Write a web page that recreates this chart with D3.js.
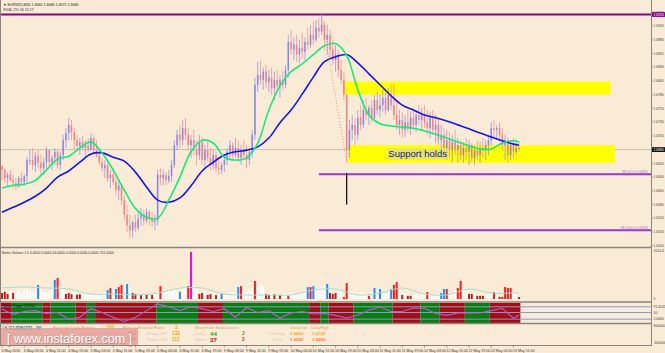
<!DOCTYPE html>
<html>
<head>
<meta charset="utf-8">
<script src="https://cdn.jsdelivr.net/npm/d3@7"></script>
<style>
html, body { margin: 0; padding: 0; background: #faebd7; }
svg { display: block; font-family: "Liberation Sans", Arial, sans-serif; }
</style>
</head>
<body>
<svg id="chart" width="665" height="353"></svg>
<script>
// EURNZD M30 - hourly samples
const highs = [
  1.6652, 1.6646, 1.6639, 1.6643, 1.6634, 1.6628, 1.6632, 1.6639, 1.6635, 1.6666,
  1.6679, 1.6683, 1.6676, 1.6679, 1.6670, 1.6665, 1.6685, 1.6679, 1.6670, 1.6683,
  1.6679, 1.6676, 1.6707, 1.6719, 1.6738, 1.6734, 1.6719, 1.6707, 1.6701, 1.6705,
  1.6697, 1.6701, 1.6710, 1.6707, 1.6697, 1.6679, 1.6665, 1.6661, 1.6656, 1.6643,
  1.6646, 1.6634, 1.6624, 1.6619, 1.6597, 1.6579, 1.6561, 1.6551, 1.6561, 1.6566,
  1.6573, 1.6570, 1.6573, 1.6570, 1.6566, 1.6561, 1.6643, 1.6646, 1.6643, 1.6639,
  1.6643, 1.6661, 1.6697, 1.6716, 1.6725, 1.6734, 1.6738, 1.6719, 1.6707, 1.6716,
  1.6697, 1.6707, 1.6701, 1.6688, 1.6697, 1.6683, 1.6679, 1.6676, 1.6661, 1.6657,
  1.6670, 1.6683, 1.6697, 1.6694, 1.6701, 1.6697, 1.6688, 1.6697, 1.6688, 1.6683,
  1.6716, 1.6811, 1.6840, 1.6843, 1.6829, 1.6834, 1.6825, 1.6829, 1.6822, 1.6825,
  1.6816, 1.6822, 1.6834, 1.6889, 1.6898, 1.6884, 1.6889, 1.6880, 1.6893, 1.6884,
  1.6902, 1.6907, 1.6913, 1.6916, 1.6920, 1.6926, 1.6913, 1.6907, 1.6898, 1.6880,
  1.6871, 1.6862, 1.6843, 1.6822, 1.6780, 1.6734, 1.6743, 1.6738, 1.6752, 1.6761,
  1.6770, 1.6774, 1.6761, 1.6770, 1.6780, 1.6785, 1.6780, 1.6789, 1.6785, 1.6792,
  1.6798, 1.6800, 1.6770, 1.6752, 1.6749, 1.6743, 1.6752, 1.6749, 1.6756, 1.6752,
  1.6761, 1.6756, 1.6761, 1.6752, 1.6749, 1.6752, 1.6743, 1.6738, 1.6725, 1.6719,
  1.6716, 1.6712, 1.6707, 1.6716, 1.6701, 1.6697, 1.6694, 1.6701, 1.6697, 1.6692,
  1.6688, 1.6697, 1.6694, 1.6701, 1.6697, 1.6707, 1.6730, 1.6734, 1.6725, 1.6730,
  1.6719, 1.6707, 1.6701, 1.6697, 1.6701, 1.6697, 1.6694
];
const lows = [
  1.6624, 1.6619, 1.6614, 1.6621, 1.6610, 1.6606, 1.6610, 1.6615, 1.6614, 1.6619,
  1.6652, 1.6643, 1.6639, 1.6646, 1.6634, 1.6634, 1.6643, 1.6646, 1.6643, 1.6652,
  1.6646, 1.6643, 1.6661, 1.6683, 1.6697, 1.6697, 1.6679, 1.6676, 1.6670, 1.6679,
  1.6666, 1.6676, 1.6679, 1.6670, 1.6665, 1.6652, 1.6639, 1.6628, 1.6621, 1.6610,
  1.6615, 1.6597, 1.6588, 1.6579, 1.6551, 1.6530, 1.6519, 1.6520, 1.6530, 1.6533,
  1.6542, 1.6542, 1.6546, 1.6542, 1.6539, 1.6533, 1.6542, 1.6615, 1.6615, 1.6615,
  1.6619, 1.6621, 1.6646, 1.6679, 1.6683, 1.6688, 1.6697, 1.6679, 1.6665, 1.6670,
  1.6652, 1.6661, 1.6652, 1.6646, 1.6657, 1.6643, 1.6643, 1.6639, 1.6634, 1.6635,
  1.6639, 1.6652, 1.6661, 1.6661, 1.6665, 1.6657, 1.6652, 1.6661, 1.6646, 1.6652,
  1.6665, 1.6697, 1.6785, 1.6798, 1.6789, 1.6792, 1.6785, 1.6780, 1.6770, 1.6785,
  1.6774, 1.6789, 1.6792, 1.6811, 1.6853, 1.6843, 1.6840, 1.6838, 1.6847, 1.6843,
  1.6862, 1.6865, 1.6871, 1.6876, 1.6884, 1.6889, 1.6862, 1.6853, 1.6849, 1.6834,
  1.6822, 1.6812, 1.6798, 1.6770, 1.6657, 1.6665, 1.6697, 1.6688, 1.6697, 1.6716,
  1.6719, 1.6734, 1.6725, 1.6730, 1.6734, 1.6743, 1.6738, 1.6749, 1.6743, 1.6749,
  1.6752, 1.6734, 1.6716, 1.6707, 1.6701, 1.6703, 1.6712, 1.6707, 1.6716, 1.6712,
  1.6725, 1.6716, 1.6719, 1.6707, 1.6701, 1.6707, 1.6692, 1.6688, 1.6679, 1.6670,
  1.6661, 1.6665, 1.6657, 1.6670, 1.6657, 1.6661, 1.6656, 1.6661, 1.6652, 1.6657,
  1.6652, 1.6661, 1.6656, 1.6665, 1.6661, 1.6670, 1.6688, 1.6701, 1.6697, 1.6694,
  1.6679, 1.6661, 1.6656, 1.6661, 1.6665, 1.6670, 1.6676
];
const closes = [
  1.6643, 1.6628, 1.6634, 1.6624, 1.6619, 1.6614, 1.6628, 1.6621, 1.6632, 1.6661,
  1.6661, 1.6652, 1.6668, 1.6656, 1.6646, 1.6657, 1.6679, 1.6657, 1.6665, 1.6676,
  1.6652, 1.6670, 1.6697, 1.6710, 1.6725, 1.6712, 1.6697, 1.6687, 1.6694, 1.6683,
  1.6688, 1.6679, 1.6701, 1.6679, 1.6670, 1.6657, 1.6646, 1.6652, 1.6628, 1.6634,
  1.6621, 1.6606, 1.6615, 1.6588, 1.6561, 1.6542, 1.6533, 1.6548, 1.6537, 1.6555,
  1.6561, 1.6551, 1.6566, 1.6555, 1.6548, 1.6551, 1.6634, 1.6628, 1.6634, 1.6624,
  1.6632, 1.6652, 1.6688, 1.6707, 1.6697, 1.6719, 1.6707, 1.6688, 1.6697, 1.6679,
  1.6670, 1.6694, 1.6661, 1.6679, 1.6665, 1.6652, 1.6670, 1.6646, 1.6643, 1.6652,
  1.6661, 1.6676, 1.6688, 1.6670, 1.6683, 1.6665, 1.6679, 1.6670, 1.6661, 1.6676,
  1.6707, 1.6798, 1.6816, 1.6807, 1.6822, 1.6803, 1.6811, 1.6792, 1.6807, 1.6796,
  1.6807, 1.6798, 1.6825, 1.6876, 1.6862, 1.6871, 1.6853, 1.6865, 1.6858, 1.6876,
  1.6871, 1.6889, 1.6880, 1.6902, 1.6895, 1.6907, 1.6880, 1.6889, 1.6862, 1.6843,
  1.6853, 1.6825, 1.6807, 1.6780, 1.6679, 1.6716, 1.6725, 1.6707, 1.6738, 1.6725,
  1.6752, 1.6743, 1.6756, 1.6738, 1.6770, 1.6752, 1.6761, 1.6774, 1.6752, 1.6780,
  1.6761, 1.6743, 1.6725, 1.6734, 1.6716, 1.6730, 1.6719, 1.6738, 1.6725, 1.6743,
  1.6734, 1.6743, 1.6730, 1.6719, 1.6738, 1.6716, 1.6725, 1.6697, 1.6707, 1.6683,
  1.6697, 1.6679, 1.6694, 1.6679, 1.6688, 1.6670, 1.6683, 1.6676, 1.6688, 1.6665,
  1.6679, 1.6670, 1.6683, 1.6679, 1.6688, 1.6697, 1.6719, 1.6716, 1.6719, 1.6707,
  1.6688, 1.6697, 1.6670, 1.6688, 1.6676, 1.6683, 1.6680
];
const firstOpen = 1.6650;

// moving averages, read every 4 bars (last one at bar 186)
const maStep = 4;
const maFast = [
  1.6610, 1.6615, 1.6617, 1.6624, 1.6643, 1.6663, 1.6668, 1.6683, 1.6694, 1.6674,
  1.6643, 1.6606, 1.6573, 1.6557, 1.6555, 1.6588, 1.6630, 1.6676, 1.6697, 1.6692,
  1.6666, 1.6661, 1.6665, 1.6692, 1.6752, 1.6796, 1.6822, 1.6836, 1.6853, 1.6869,
  1.6873, 1.6851, 1.6789, 1.6743, 1.6727, 1.6723, 1.6721, 1.6719, 1.6714, 1.6708,
  1.6701, 1.6694, 1.6687, 1.6681, 1.6681, 1.6692, 1.6696, 1.6694
];
const maSlow = [
  1.6566, 1.6575, 1.6584, 1.6595, 1.6610, 1.6630, 1.6641, 1.6657, 1.6672, 1.6674,
  1.6666, 1.6659, 1.6639, 1.6612, 1.6588, 1.6584, 1.6592, 1.6614, 1.6641, 1.6657,
  1.6670, 1.6676, 1.6679, 1.6685, 1.6701, 1.6729, 1.6752, 1.6781, 1.6812, 1.6840,
  1.6849, 1.6853, 1.6838, 1.6818, 1.6798, 1.6778, 1.6761, 1.6752, 1.6743, 1.6738,
  1.6732, 1.6725, 1.6718, 1.6710, 1.6703, 1.6696, 1.6690, 1.6688
];

// Better Volume: value and colour class per bar (w white, r red, d dark red, b blue, m magenta)
const volumes = [
  250, 300, 210, 340, 250, 300, 380, 260, 420, 500,
  340, 300, 380, 590, 420, 300, 260, 340, 460, 800,
  880, 420, 500, 210, 250, 200, 300, 180, 200, 260,
  220, 180, 200, 160, 220, 180, 260, 300, 380, 460,
  420, 420, 500, 590, 500, 630, 460, 250, 210, 200,
  160, 180, 170, 150, 170, 200, 300, 540, 260, 300,
  380, 340, 460, 300, 300, 420, 460, 540, 1970, 540,
  380, 210, 250, 300, 170, 200, 220, 160, 200, 210,
  180, 220, 250, 300, 260, 500, 540, 340, 300, 420,
  460, 760, 500, 630, 540, 210, 170, 250, 200, 220,
  170, 180, 220, 130, 250, 210, 180, 220, 300, 340,
  500, 500, 540, 420, 460, 500, 590, 630, 250, 210,
  250, 340, 300, 80, 670, 380, 300, 250, 210, 300,
  250, 210, 130, 340, 460, 300, 420, 250, 210, 340,
  420, 590, 710, 380, 170, 250, 130, 130, 160, 200,
  180, 220, 180, 290, 200, 160, 180, 220, 250, 420,
  420, 300, 250, 340, 460, 760, 460, 340, 210, 210,
  250, 130, 130, 130, 180, 200, 220, 290, 200, 90,
  90, 500, 460, 460, 250, 200, 80
];
const volumeKinds =
  "dddwdwwwww" + "wwwbwwwwwb" + "rwwdddwddw" + "wwwwwwwwbr" + "wbrrwbwddw" +
  "dwdwdwwrww" + "wwwwbwwrmw" + "wddwddwdwb" + "wwwwwbrwww" + "wrwwwddwdw" +
  "dwwrwwwwww" + "brbwwwwbdd" + "dwwrrwwwww" + "wwrwbwbwww" + "brrwdwddww" +
  "wwwrwwwwbb" + "rwwwrrwwdd" + "wdddwwwrwd" + "drrrwwd";
const volAvgStep = 8;
const volAvg = [462, 504, 462, 420, 210, 210, 168, 252, 462, 462, 210, 168, 168,
  168, 378, 420, 168, 252, 462, 210, 168, 420, 252, 252, 252];

// trend oscillator pane: coloured runs [bars, state] and line every 4 bars
const trendRuns = [[4, "r"], [11, "g"], [3, "r"], [9, "g"], [4, "r"], [3, "g"], [22, "r"],
  [15, "g"], [9, "r"], [31, "g"], [4, "r"], [3, "g"], [9, "r"], [14, "g"], [10, "r"],
  [7, "g"], [9, "r"], [9, "g"], [11, "r"]];
const oscStep = 4;
const oscValues = [68, 40, 55, 60, 45, 50, 15, 25, 70, 50, 25, 3, 25, 60, 95, 80, 60, 80,
  70, 55, 70, 25, 75, 50, 60, 21, 47, 55, 42, 45, 35, 21, 37, 63, 79, 55, 55, 74, 72, 45,
  35, 47, 47, 47, 60, 72, 20, 37];
const oscLevels = [80, 50, 15];
const oscLabels = ["91.6105", "50", "0.0000"];

const priceTicks = [1.6505, 1.6530, 1.6555, 1.6580, 1.6605, 1.6630, 1.6655, 1.6680, 1.6705,
  1.6730, 1.6755, 1.6780, 1.6805, 1.6830, 1.6855, 1.6880, 1.6905, 1.6930];
const timeLabels = ["3 May 2016", "4 May 03:00", "4 May 11:00", "4 May 19:00", "5 May 03:00",
  "5 May 11:00", "5 May 19:00", "6 May 03:00", "6 May 11:00", "6 May 19:00", "9 May 03:00",
  "9 May 11:00", "9 May 19:00", "10 May 03:00", "10 May 11:00", "10 May 19:00", "11 May 03:00",
  "11 May 11:00", "11 May 19:00", "12 May 03:00", "12 May 11:00", "12 May 19:00",
  "13 May 03:00", "13 May 11:00"];
const timeLabelEvery = 8;

// drawn objects
const resistanceLine = 1.6926;
const currentPrice = 1.6680;
const fibLevels = [{ name: "FE 61.8 (1.6635)", price: 1.6635 }, { name: "FE 100.0 (1.6533)", price: 1.6533 }];
const zones = [
  { from: 123.5, to: 219, top: 1.6804, bottom: 1.6780, text: "" },
  { from: 124.5, to: 220.5, top: 1.6688, bottom: 1.6656, text: "Support holds" }
];

const svg = d3.select("#chart");
const PLOT_R = 651;
const AXIS_FONT = 3.4;
const x = d3.scaleLinear().domain([0, 186]).range([2, 519]);
const y = d3.scaleLinear().domain([1.6505, 1.6930]).range([245.7, 12.3]);
const yVol = d3.scaleLinear().domain([0, 2014.4]).range([299, 251]);
const yOsc = d3.scaleLinear().domain([0, 100]).range([322, 303]);

svg.append("rect").attr("width", 665).attr("height", 353).attr("fill", "#faebd7");

const defs = svg.append("defs");
defs.append("clipPath").attr("id", "clipMain")
  .append("rect").attr("x", 0).attr("y", 0).attr("width", PLOT_R).attr("height", 247);

// ---- main pane ----
const main = svg.append("g").attr("clip-path", "url(#clipMain)");

main.append("line")
  .attr("x1", 0).attr("x2", PLOT_R)
  .attr("y1", y(currentPrice)).attr("y2", y(currentPrice))
  .attr("stroke", "#c8c2b8").attr("stroke-width", 1);

main.selectAll(".zone").data(zones).join("rect")
  .attr("class", "zone")
  .attr("x", d => x(d.from)).attr("width", d => x(d.to) - x(d.from))
  .attr("y", d => y(d.top)).attr("height", d => y(d.bottom) - y(d.top))
  .attr("fill", "#ffff00");

main.append("line")
  .attr("x1", 0).attr("x2", PLOT_R)
  .attr("y1", y(resistanceLine)).attr("y2", y(resistanceLine))
  .attr("stroke", "#8b008b").attr("stroke-width", 2);

main.selectAll(".fib").data(fibLevels).join("line")
  .attr("class", "fib")
  .attr("x1", x(114)).attr("x2", PLOT_R)
  .attr("y1", d => y(d.price)).attr("y2", d => y(d.price))
  .attr("stroke", "#9a35d6").attr("stroke-width", 2);

main.selectAll(".fibtxt").data(fibLevels).join("text")
  .attr("x", PLOT_R - 3).attr("y", d => y(d.price) - 1.8)
  .attr("text-anchor", "end").attr("font-size", AXIS_FONT).attr("fill", "#9a7ac0")
  .text(d => d.name);

const bars = closes.map((c, i) => ({ i, o: i ? closes[i - 1] : firstOpen, h: highs[i], l: lows[i], c }));
const up = d => d.c >= d.o;

main.selectAll(".wick").data(bars).join("line")
  .attr("class", "wick")
  .attr("x1", d => x(d.i)).attr("x2", d => x(d.i))
  .attr("y1", d => y(d.h)).attr("y2", d => y(d.l))
  .attr("stroke", d => up(d) ? "#8a8af0" : "#f08a8a")
  .attr("stroke-width", 1).attr("opacity", 0.7);

main.selectAll(".body").data(bars).join("rect")
  .attr("class", "body")
  .attr("x", d => x(d.i) - 0.8).attr("width", 1.6)
  .attr("y", d => y(Math.max(d.o, d.c)))
  .attr("height", d => Math.max(0.8, Math.abs(y(d.o) - y(d.c))))
  .attr("fill", d => up(d) ? "#7a7ae6" : "#ec7676").attr("opacity", 0.75);

const maX = k => x(Math.min(k * maStep, closes.length - 1));
const maLine = d3.line().x((d, k) => maX(k)).y(d => y(d)).curve(d3.curveCatmullRom.alpha(0.5));

main.append("path").datum(maSlow).attr("d", maLine)
  .attr("fill", "none").attr("stroke", "#1414f0").attr("stroke-width", 1.6);
main.append("path").datum(maFast).attr("d", maLine)
  .attr("fill", "none").attr("stroke", "#19e87a").attr("stroke-width", 1.6);

// swing dotted line and the drop marker
main.append("line")
  .attr("x1", x(115)).attr("y1", y(highs[115]))
  .attr("x2", x(124)).attr("y2", y(lows[124]))
  .attr("stroke", "#f08a8a").attr("stroke-width", 1).attr("stroke-dasharray", "1,2");
main.append("line")
  .attr("x1", x(124)).attr("x2", x(124))
  .attr("y1", y(1.6637)).attr("y2", y(1.6580))
  .attr("stroke", "#000").attr("stroke-width", 1.2);

const sup = zones[1];
const supText = main.append("text")
  .attr("x", x(139)).attr("y", y((sup.top + sup.bottom) / 2) + 3.5)
  .attr("font-size", 9.5).attr("fill", "#1c1c70").text(sup.text);
const bb = supText.node().getBBox();
main.insert("rect", "text:last-of-type")
  .attr("x", bb.x - 1).attr("y", bb.y).attr("width", bb.width + 2).attr("height", bb.height)
  .attr("fill", "#d8d6a8").attr("opacity", 0.7);
supText.raise();

// header
svg.append("text").attr("x", 3).attr("y", 5.5).attr("font-size", 3.6).attr("fill", "#222")
  .text("\u25BC EURNZD,M30  1.6660 1.6686 1.6675 1.6680");
svg.append("text").attr("x", 3).attr("y", 11).attr("font-size", 3.6).attr("fill", "#222")
  .text("3%SL    2% 16     15:17");

// ---- right price axis ----
const axisG = svg.append("g");
axisG.selectAll("text").data(priceTicks).join("text")
  .attr("x", 653.5).attr("y", d => y(d) + 1.2)
  .attr("font-size", AXIS_FONT).attr("fill", "#444")
  .text(d => d.toFixed(4));
axisG.selectAll("line").data(priceTicks).join("line")
  .attr("x1", PLOT_R).attr("x2", PLOT_R + 2)
  .attr("y1", d => y(d)).attr("y2", d => y(d)).attr("stroke", "#666").attr("stroke-width", 0.6);

function priceBox(v, fill) {
  svg.append("rect").attr("x", PLOT_R + 1).attr("y", y(v) - 2.4).attr("width", 13).attr("height", 4.8).attr("fill", fill);
  svg.append("text").attr("x", 653.5).attr("y", y(v) + 1.2).attr("font-size", AXIS_FONT).attr("fill", "#fff").text(v.toFixed(4));
}
priceBox(resistanceLine, "#8b008b");
priceBox(currentPrice, "#111");

// ---- volume pane ----
const volColor = { w: "#ffffff", r: "#ff1a1a", d: "#b22222", b: "#1e90ff", m: "#ff00ff" };
const vol = svg.append("g");
vol.selectAll("rect").data(volumes).join("rect")
  .attr("x", (d, i) => x(i) - 1).attr("width", 2)
  .attr("y", d => yVol(d)).attr("height", d => yVol(0) - yVol(d))
  .attr("fill", (d, i) => volColor[volumeKinds[i]]);
vol.append("path").datum(volAvg)
  .attr("d", d3.line().x((d, k) => x(Math.min(k * volAvgStep, closes.length - 1))).y(d => yVol(d)).curve(d3.curveCatmullRom))
  .attr("fill", "none").attr("stroke", "#a8dccb").attr("stroke-width", 1);
svg.append("text").attr("x", 2).attr("y", 253.5).attr("font-size", 3.4).attr("fill", "#333")
  .text("Better Volume 1.5  0.0000 0.0000 44.0000 0.0000 0.0000 0.0000 231.0000");
svg.append("text").attr("x", 653.5).attr("y", yVol(2014.4) + 1.2).attr("font-size", AXIS_FONT).attr("fill", "#444").text("2014.4");
svg.append("text").attr("x", 653.5).attr("y", yVol(0) + 1.2).attr("font-size", AXIS_FONT).attr("fill", "#444").text("0");

// ---- trend pane ----
let start = 0;
const runs = trendRuns.map(([n, s]) => { const r = { s0: start, s1: start + n, s }; start += n; return r; });
svg.selectAll(".run").data(runs).join("rect")
  .attr("class", "run")
  .attr("x", d => x(d.s0) - 1.4).attr("width", d => x(d.s1) - x(d.s0))
  .attr("y", 303).attr("height", 20)
  .attr("fill", d => d.s === "g" ? "#0a7d0a" : "#a50e0e");
svg.selectAll(".lvl").data(oscLevels).join("line")
  .attr("class", "lvl")
  .attr("x1", 0).attr("x2", PLOT_R).attr("y1", d => yOsc(d)).attr("y2", d => yOsc(d))
  .attr("stroke", "#7f9be0").attr("stroke-width", 1);
svg.append("path").datum(oscValues)
  .attr("d", d3.line().x((d, k) => x(Math.min(k * oscStep, closes.length - 1))).y(d => yOsc(d)))
  .attr("fill", "none").attr("stroke", "#c05ad0").attr("stroke-width", 1.1);
svg.append("text").attr("x", 3).attr("y", 306.5).attr("font-size", 3.4).attr("fill", "#111")
  .text("Trend Trigger (14,50)");
svg.selectAll(".osclbl").data(oscLevels).join("text")
  .attr("class", "osclbl")
  .attr("x", 653.5).attr("y", d => yOsc(d) + 1.2).attr("font-size", AXIS_FONT).attr("fill", "#444")
  .text((d, k) => oscLabels[k]);

// ---- info pane ----
const info = [
  ["EURNZD_30", 9, 329.5, "#2f8fa8", 5.6, "bold"],
  ["Average Daily Range:", 53, 328.5, "#d6a55e", 4.4, "normal"],
  ["163", 106, 328.5, "#ffa500", 4.8, "bold"],
  ["Risk to Reward Ratio:", 123, 328.5, "#d6a55e", 4.4, "normal"],
  ["3", 175, 328.5, "#ffa500", 4.8, "bold"],
  ["Maximum StopLosses:", 195, 328.5, "#d6a55e", 4.4, "normal"],
  ["DailyLow", 290, 328.5, "#d6a55e", 4.2, "normal"],
  ["DailyHigh", 311, 328.5, "#d6a55e", 4.2, "normal"],
  ["Prev 1 Day Range:", 10, 334.5, "#e8b0a0", 4.4, "normal"],
  ["118", 60, 334.5, "#ffa500", 4.8, "bold"],
  ["Prev 10 Days Range:", 80, 334.5, "#e8b0a0", 4.4, "normal"],
  ["182", 128, 334.5, "#ff6a2a", 4.8, "bold"],
  ["Pivots UP:", 147, 334.5, "#e8c0b0", 4.4, "normal"],
  ["133", 172, 334.5, "#ffa500", 4.8, "bold"],
  ["Long :", 195, 334.5, "#e8c0b0", 4.4, "normal"],
  ["44", 210, 335.5, "#22b022", 6.2, "bold"],
  ["2", 242, 334.5, "#22b022", 4.8, "bold"],
  ["CurrDay", 269, 334.5, "#e8c0b0", 4.2, "normal"],
  ["1.6660", 290, 334.5, "#ffa500", 4.4, "bold"],
  ["1.6730", 312, 334.5, "#ffa500", 4.4, "bold"],
  ["184", 128, 340.5, "#ff6a2a", 4.8, "bold"],
  ["Pivots DN:", 147, 340.5, "#e8c0b0", 4.4, "normal"],
  ["112", 172, 340.5, "#ffa500", 4.8, "bold"],
  ["Short :", 195, 340.5, "#e8c0b0", 4.4, "normal"],
  ["37", 210, 341.5, "#e01010", 6.2, "bold"],
  ["2", 242, 340.5, "#e01010", 4.8, "bold"],
  ["Price", 273, 340.5, "#e8c0b0", 4.2, "normal"],
  ["1.6680", 290, 340.5, "#ff7a3a", 4.4, "bold"],
  ["1.6680", 312, 340.5, "#ff7a3a", 4.4, "bold"]
];
svg.append("rect").attr("x", 1).attr("y", 325).attr("width", 7).attr("height", 5).attr("fill", "#fff").attr("stroke", "#888").attr("stroke-width", 0.4);
svg.append("text").attr("x", 1.8).attr("y", 329).attr("font-size", 3.4).attr("fill", "#333").text("T/A");
svg.selectAll(".info").data(info).join("text")
  .attr("class", "info")
  .attr("x", d => d[1]).attr("y", d => d[2]).attr("fill", d => d[3])
  .attr("font-size", d => d[4]).attr("font-weight", d => d[5]).text(d => d[0]);
svg.append("rect").attr("x", 0).attr("y", 328).attr("width", 138).attr("height", 17).attr("fill", "#e49b96").attr("opacity", 0.8);
svg.append("text").attr("x", 7.5).attr("y", 343.5).attr("font-size", 12.5).attr("fill", "#9a6a66").attr("opacity", 0.6)
  .text("[ www.instaforex.com ]");
svg.append("text").attr("x", 7).attr("y", 343).attr("font-size", 12.5).attr("fill", "#ffffff")
  .text("[ www.instaforex.com ]");
svg.append("text").attr("x", 653.5).attr("y", 326.5).attr("font-size", AXIS_FONT).attr("fill", "#444").text("800000");
svg.append("text").attr("x", 653.5).attr("y", 344).attr("font-size", AXIS_FONT).attr("fill", "#444").text("-800000");

// ---- separators and frame ----
[247.5, 302, 323.5].forEach(v => svg.append("line").attr("x1", 0).attr("x2", PLOT_R)
  .attr("y1", v).attr("y2", v).attr("stroke", "#8a8580").attr("stroke-width", 1.5));
svg.append("line").attr("x1", PLOT_R + 0.5).attr("x2", PLOT_R + 0.5).attr("y1", 0).attr("y2", 346)
  .attr("stroke", "#8a8580").attr("stroke-width", 1);
svg.append("line").attr("x1", 0.5).attr("x2", 0.5).attr("y1", 0).attr("y2", 346)
  .attr("stroke", "#8a8580").attr("stroke-width", 1);
svg.append("line").attr("x1", 0).attr("x2", PLOT_R + 1).attr("y1", 345.5).attr("y2", 345.5)
  .attr("stroke", "#8a8580").attr("stroke-width", 1);

// ---- time axis ----
const tAxis = svg.append("g");
tAxis.selectAll("line").data(timeLabels).join("line")
  .attr("x1", (d, k) => x(k * timeLabelEvery)).attr("x2", (d, k) => x(k * timeLabelEvery))
  .attr("y1", 345.5).attr("y2", 347.5).attr("stroke", "#666").attr("stroke-width", 0.6);
tAxis.selectAll("text").data(timeLabels).join("text")
  .attr("x", (d, k) => x(k * timeLabelEvery) - 0.5).attr("y", 351.5)
  .attr("font-size", 3.6).attr("fill", "#333").text(d => d);
</script>
</body>
</html>
